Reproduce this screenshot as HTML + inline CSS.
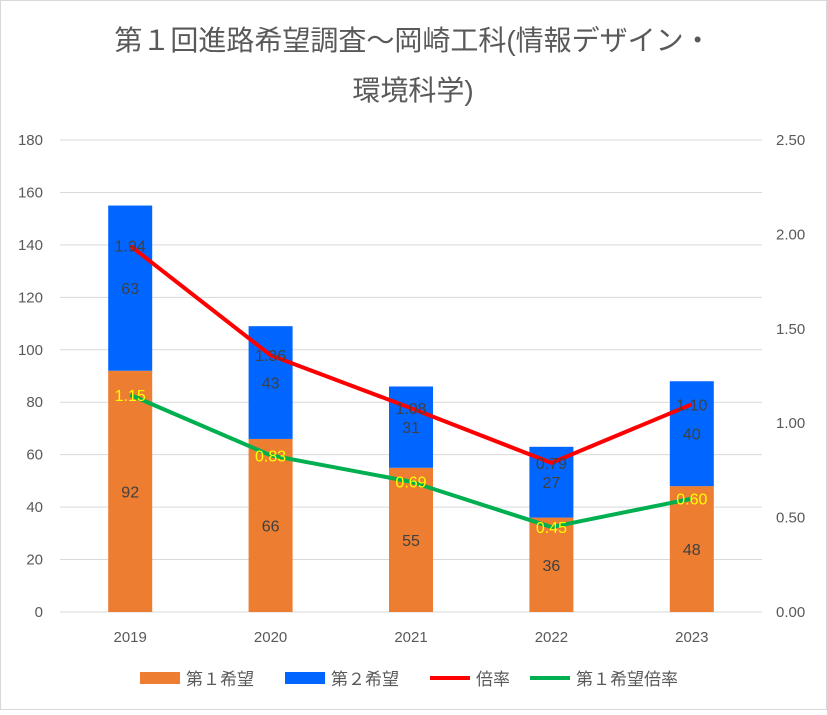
<!DOCTYPE html>
<html><head><meta charset="utf-8"><style>
body{margin:0;background:#fff}
svg text{font-family:"Liberation Sans","Noto Sans CJK JP",sans-serif}
</style></head><body>
<svg id="chart" width="827" height="710" xmlns="http://www.w3.org/2000/svg">
<rect x="0.5" y="0.5" width="826" height="709" fill="#fff" stroke="#d9d9d9"/>
<text x="413" y="50" text-anchor="middle" font-size="28" fill="#595959">第１回進路希望調査～岡崎工科(情報デザイン・</text>
<text x="413" y="100" text-anchor="middle" font-size="28" fill="#595959">環境科学)</text>
<g id="grid"></g><g id="bars"></g><g id="lines"></g><g id="labels"></g>
<g>
<rect x="140" y="672" width="40" height="12" fill="#ed7d31"/>
<text x="186" y="685" font-size="17" fill="#595959">第１希望</text>
<rect x="285" y="672" width="40" height="12" fill="#0066ff"/>
<text x="331" y="685" font-size="17" fill="#595959">第２希望</text>
<line x1="430" y1="678" x2="470" y2="678" stroke="#ff0000" stroke-width="4"/>
<text x="476" y="685" font-size="17" fill="#595959">倍率</text>
<line x1="530" y1="678" x2="570" y2="678" stroke="#00b050" stroke-width="4"/>
<text x="576" y="685" font-size="17" fill="#595959">第１希望倍率</text>
</g>
</svg>
<script>
const categories=["2019","2020","2021","2022","2023"];
const first=[92,66,55,36,48];
const second=[63,43,31,27,40];
const ratio=[1.94,1.36,1.08,0.79,1.10];
const firstRatio=[1.15,0.83,0.69,0.45,0.60];
const leftTicks=[0,20,40,60,80,100,120,140,160,180];
const rightTicks=[0,0.5,1,1.5,2,2.5];
const NS="http://www.w3.org/2000/svg";
const x0=60,x1=762,yb=612,yt=140;
const yL=v=>yb-(v/180)*(yb-yt);
const yR=v=>yb-(v/2.5)*(yb-yt);
const bw=(x1-x0)/categories.length;
const xC=i=>x0+bw*(i+0.5);
function mk(tag,attrs,parent,txt){const e=document.createElementNS(NS,tag);for(const k in attrs)e.setAttribute(k,attrs[k]);if(txt!==undefined)e.textContent=txt;document.getElementById(parent).appendChild(e);return e;}
leftTicks.forEach(t=>{
 const g=mk('line',{x1:x0,x2:x1,y1:yL(t),y2:yL(t),stroke:'#d9d9d9','stroke-width':1},'grid');
 
 
 const l=mk('text',{x:43,y:yL(t)+5,'text-anchor':'end','font-size':15,fill:'#595959'},'grid',t);
 
 
});
rightTicks.forEach(t=>{
 const l=mk('text',{x:776,y:yR(t)+5,'font-size':15,fill:'#595959'},'grid',t.toFixed(2));
 
 
});
categories.forEach((c,i)=>{
 const l=mk('text',{x:xC(i),y:642,'text-anchor':'middle','font-size':15,fill:'#595959'},'grid',c);
 
 
 const w=44,xl=xC(i)-w/2;
 const b1=mk('rect',{x:xl,y:yL(first[i]),width:w,height:yb-yL(first[i]),fill:'#ed7d31'},'bars');
 
 
 const b2=mk('rect',{x:xl,y:yL(first[i]+second[i]),width:w,height:yL(first[i])-yL(first[i]+second[i]),fill:'#0066ff'},'bars');
 
 
 const t1=mk('text',{x:xC(i),y:yL(first[i]/2)+6,'text-anchor':'middle','font-size':16,fill:'#404040'},'labels',first[i]);
 
 
 const t2=mk('text',{x:xC(i),y:yL(first[i]+second[i]/2)+6,'text-anchor':'middle','font-size':16,fill:'#404040'},'labels',second[i]);
 
 
 const t3=mk('text',{x:xC(i),y:yR(ratio[i])+6,'text-anchor':'middle','font-size':16,fill:'#404040'},'labels',ratio[i].toFixed(2));
 
 
 const t4=mk('text',{x:xC(i),y:yR(firstRatio[i])+6,'text-anchor':'middle','font-size':16,fill:'#ffff00'},'labels',firstRatio[i].toFixed(2));
 
 
});
const axis=mk('line',{x1:x0,x2:x1,y1:yb,y2:yb,stroke:'#d9d9d9'},'grid');


const p1=mk('polyline',{points:ratio.map((v,i)=>xC(i)+','+yR(v)).join(' '),fill:'none',stroke:'#ff0000','stroke-width':4,'stroke-linejoin':'round'},'lines');


const p2=mk('polyline',{points:firstRatio.map((v,i)=>xC(i)+','+yR(v)).join(' '),fill:'none',stroke:'#00b050','stroke-width':4,'stroke-linejoin':'round'},'lines');


</script>
</body></html>
